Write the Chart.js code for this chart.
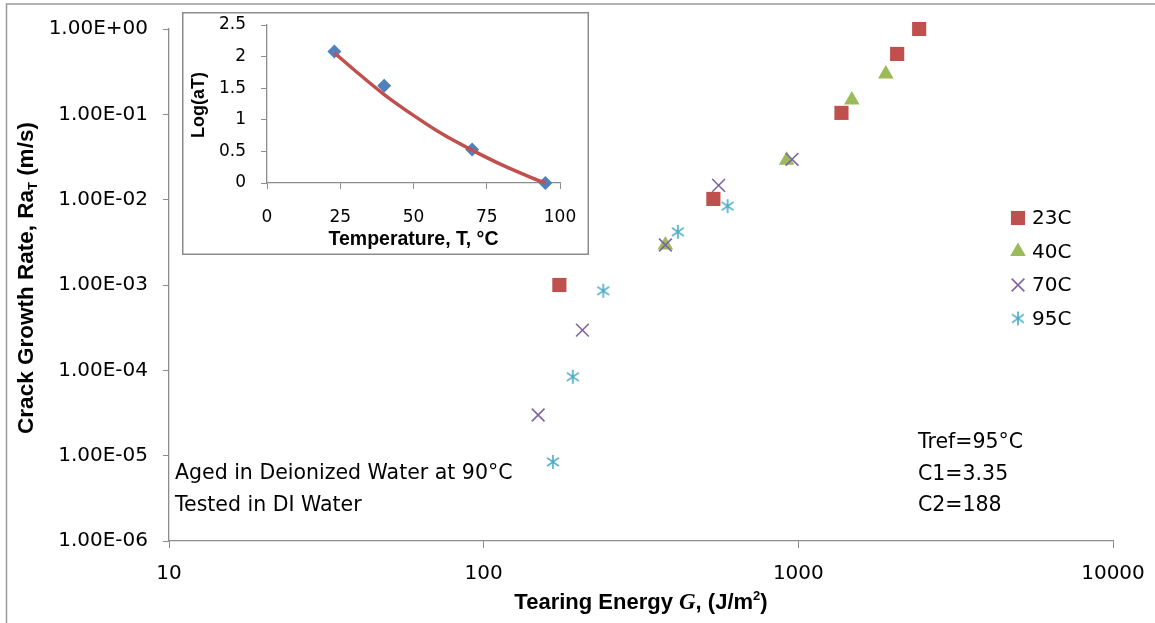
<!DOCTYPE html>
<html>
<head>
<meta charset="utf-8">
<script src="https://cdn.jsdelivr.net/npm/chart.js@4/dist/chart.umd.min.js"></script>
<style>
  html, body { margin: 0; padding: 0; background: #fff; }
  #wrap { position: relative; width: 1155px; height: 623px; }
  #main { position: absolute; left: 0; top: 0; }
  #inset { position: absolute; left: 182px; top: 12px; }
</style>
</head>
<body>
<div id="wrap">
  <canvas id="main" width="1155" height="623"></canvas>
  <canvas id="inset" width="407" height="243"></canvas>
</div>
<script>
// tearing energy (J/m2) vs shifted crack growth rate (m/s), one pair of arrays per temperature
const energy23 = [174, 537, 1371, 2061, 2421];
const rate23   = [1.0e-3, 1.02e-2, 0.104, 0.51, 1.0];
const energy40 = [378, 918, 1479, 1897];
const rate40   = [2.94e-3, 2.9e-2, 0.147, 0.297];
const energy70 = [149, 206, 378, 558, 955];
const rate70   = [3.0e-5, 2.96e-4, 2.94e-3, 1.47e-2, 2.97e-2];
const energy95 = [166, 192, 240, 414, 596];
const rate95   = [8.45e-6, 8.4e-5, 8.55e-4, 4.2e-3, 8.4e-3];

const seriesNames = ['23C', '40C', '70C', '95C'];
const energyTicks = [10, 100, 1000, 10000];
const rateTicks = [1e-6, 1e-5, 1e-4, 1e-3, 1e-2, 1e-1, 1];

// shift factors for the inset
const tempC  = [23, 40, 70, 95];
const logAT  = [2.08, 1.54, 0.53, 0];
const fitTemp  = [23, 30, 40, 50, 60, 70, 80, 90, 95];
const fitLogAT = [2.06, 1.78, 1.40, 1.07, 0.77, 0.52, 0.29, 0.09, 0];
const tempTicks = [0, 25, 50, 75, 100];
const logTicks = [0, 0.5, 1, 1.5, 2, 2.5];

const notesLeft = ['Aged in Deionized Water at 90\u00B0C', 'Tested in DI Water'];
const notesRight = ['Tref=95\u00B0C', 'C1=3.35', 'C2=188'];

const RED = '#C0504D', GREEN = '#9BBB59', PURPLE = '#8064A2', CYAN = '#4BACC6', BLUE = '#4F81BD';
const AXIS = '#8c8c8c';
const TICK_FONT = 'DejaVu Sans';
const TITLE_FONT = 'Liberation Sans';

function sci(v) {
    let e = Math.round(Math.log10(v));
    let m = (v / Math.pow(10, e)).toFixed(2);
    return m + 'E' + (e < 0 ? '-' : '+') + String(Math.abs(e)).padStart(2, '0');
}

// Excel style asterisk: one vertical stroke plus an x
function asterisk(color, size) {
    let c = document.createElement('canvas');
    c.width = size; c.height = size;
    let g = c.getContext('2d');
    g.strokeStyle = color;
    g.lineWidth = 1.6;
    let m = size / 2, r = size / 2 - 1, d = r * 0.85;
    g.beginPath();
    g.moveTo(m, m - r); g.lineTo(m, m + r);
    g.moveTo(m - d, m - d * 0.7); g.lineTo(m + d, m + d * 0.7);
    g.moveTo(m - d, m + d * 0.7); g.lineTo(m + d, m - d * 0.7);
    g.stroke();
    return c;
}
const starImg = asterisk(CYAN, 16);

function pairs(xs, ys) {
    return xs.map((x, i) => ({ x: x, y: ys[i] }));
}

// text made of several runs (bold, italic, sub/superscript), centred on x
function drawRuns(ctx, runs, x, y) {
    let total = 0;
    runs.forEach(r => { ctx.font = r.font; r.w = ctx.measureText(r.text).width; total += r.w; });
    let cx = x - total / 2;
    runs.forEach(r => {
        ctx.font = r.font;
        ctx.fillText(r.text, cx, y + (r.dy || 0));
        cx += r.w;
    });
}

// let the layout padding alone decide where the plot area ends
function fitX(h) {
    return s => { s.height = h; s.paddingLeft = 0; s.paddingRight = 0; };
}

const mainDecor = {
    id: 'mainDecor',
    beforeDraw(chart) {
        let ctx = chart.ctx;
        ctx.save();
        ctx.fillStyle = '#fff';
        ctx.fillRect(0, 0, chart.width, chart.height);
        ctx.restore();
    },
    afterDraw(chart) {
        let ctx = chart.ctx;
        ctx.save();
        // frame: top and left edges only
        ctx.strokeStyle = '#9a9a9a';
        ctx.lineWidth = 1.5;
        ctx.beginPath();
        ctx.moveTo(6.5, 623); ctx.lineTo(6.5, 4); ctx.lineTo(1155, 4);
        ctx.stroke();

        ctx.fillStyle = '#000';
        ctx.textAlign = 'left';
        ctx.textBaseline = 'middle';

        // x title
        let b = 'bold 22px "' + TITLE_FONT + '"';
        drawRuns(ctx, [
            { text: 'Tearing Energy ', font: b },
            { text: 'G', font: 'italic bold 23px "Liberation Serif"' },
            { text: ', (J/m', font: b },
            { text: '2', font: 'bold 13px "' + TITLE_FONT + '"', dy: -7 },
            { text: ')', font: b }
        ], 641, 603);

        // y title
        ctx.save();
        ctx.translate(27, 278);
        ctx.rotate(-Math.PI / 2);
        let by = 'bold 22.5px "' + TITLE_FONT + '"';
        drawRuns(ctx, [
            { text: 'Crack Growth Rate, Ra', font: by },
            { text: 'T', font: 'bold 13px "' + TITLE_FONT + '"', dy: 6 },
            { text: ' (m/s)', font: by }
        ], 0, 0);
        ctx.restore();

        // notes
        ctx.font = '20.5px "' + TICK_FONT + '"';
        notesLeft.forEach((t, i) => ctx.fillText(t, 175, 474 + i * 32));
        notesRight.forEach((t, i) => ctx.fillText(t, 918, 443 + i * 31.5));

        // legend
        ctx.font = '20px "' + TICK_FONT + '"';
        chart.data.datasets.forEach((ds, i) => {
            let y = 218 + i * 33.5;
            ctx.fillStyle = ds.backgroundColor;
            ctx.strokeStyle = ds.borderColor;
            ctx.lineWidth = ds.borderWidth;
            Chart.helpers.drawPoint(ctx, { pointStyle: ds.pointStyle, radius: ds.pointRadius, rotation: 0, borderWidth: ds.borderWidth }, 1018, y);
            ctx.fillStyle = '#000';
            ctx.fillText(ds.label, 1032, y + 1);
        });
        ctx.restore();
    }
};

new Chart(document.getElementById('main'), {
    type: 'scatter',
    data: {
        datasets: [
            { label: seriesNames[0], data: pairs(energy23, rate23), pointStyle: 'rect', pointRadius: 10,
              backgroundColor: RED, borderColor: RED, borderWidth: 0, order: 4, clip: false },
            { label: seriesNames[1], data: pairs(energy40, rate40), pointStyle: 'triangle', pointRadius: 9,
              backgroundColor: GREEN, borderColor: GREEN, borderWidth: 0, order: 3, clip: false },
            { label: seriesNames[2], data: pairs(energy70, rate70), pointStyle: 'crossRot', pointRadius: 9,
              backgroundColor: PURPLE, borderColor: PURPLE, borderWidth: 1.6, order: 2, clip: false },
            { label: seriesNames[3], data: pairs(energy95, rate95), pointStyle: starImg, pointRadius: 8,
              backgroundColor: CYAN, borderColor: CYAN, borderWidth: 1.6, order: 1, clip: false }
        ]
    },
    options: {
        responsive: false,
        animation: false,
        layout: { padding: { top: 29, right: 42, left: 0, bottom: 0 } },
        plugins: { legend: { display: false }, tooltip: { enabled: false } },
        scales: {
            x: {
                type: 'logarithmic', min: 10, max: 10000,
                afterBuildTicks: s => { s.ticks = energyTicks.map(v => ({ value: v })); },
                afterFit: fitX(82),
                grid: { drawOnChartArea: false, tickLength: 7, color: AXIS },
                border: { color: AXIS, width: 1.3 },
                ticks: { color: '#000', font: { family: TICK_FONT, size: 20 }, padding: 14,
                         maxRotation: 0, autoSkip: false, callback: v => String(v) }
            },
            y: {
                type: 'logarithmic', min: 1e-6, max: 1,
                afterBuildTicks: s => { s.ticks = rateTicks.map(v => ({ value: v })); },
                afterFit: s => { s.width = 169; s.paddingTop = 0; s.paddingBottom = 0; },
                grid: { drawOnChartArea: false, tickLength: 6, color: AXIS },
                border: { color: AXIS, width: 1.3 },
                ticks: { color: '#000', font: { family: TICK_FONT, size: 20 }, padding: 15,
                         autoSkip: false, callback: v => sci(v) }
            }
        }
    },
    plugins: [mainDecor]
});

const insetDecor = {
    id: 'insetDecor',
    beforeDraw(chart) {
        let ctx = chart.ctx;
        ctx.save();
        ctx.fillStyle = '#fff';
        ctx.fillRect(0, 0, chart.width, chart.height);
        ctx.strokeStyle = AXIS;
        ctx.lineWidth = 1.5;
        ctx.strokeRect(0.75, 0.75, chart.width - 1.5, chart.height - 1.5);
        ctx.restore();
    },
    afterDraw(chart) {
        let ctx = chart.ctx;
        ctx.save();
        ctx.fillStyle = '#000';
        ctx.textAlign = 'center';
        ctx.textBaseline = 'middle';
        ctx.font = 'bold 19.5px "' + TITLE_FONT + '"';
        ctx.fillText('Temperature, T, \u00B0C', 231.5, 228);
        ctx.font = 'bold 18px "' + TITLE_FONT + '"';
        ctx.translate(17, 93);
        ctx.rotate(-Math.PI / 2);
        ctx.fillText('Log(aT)', 0, 0);
        ctx.restore();
    }
};

new Chart(document.getElementById('inset'), {
    type: 'scatter',
    data: {
        datasets: [
            { label: 'fit', data: pairs(fitTemp, fitLogAT), showLine: true, pointRadius: 0,
              borderColor: RED, borderWidth: 3.5, cubicInterpolationMode: 'monotone', clip: false },
            { label: 'log aT', data: pairs(tempC, logAT), pointStyle: 'rectRot', pointRadius: 7,
              backgroundColor: BLUE, borderColor: BLUE, borderWidth: 0, clip: false }
        ]
    },
    options: {
        responsive: false,
        animation: false,
        layout: { padding: { top: 13, right: 29, left: 0, bottom: 0 } },
        plugins: { legend: { display: false }, tooltip: { enabled: false } },
        scales: {
            x: {
                type: 'linear', min: 0, max: 100,
                afterBuildTicks: s => { s.ticks = tempTicks.map(v => ({ value: v })); },
                afterFit: fitX(72),
                grid: { drawOnChartArea: false, tickLength: 6, color: AXIS },
                border: { color: AXIS, width: 1.3 },
                ticks: { color: '#000', font: { family: TICK_FONT, size: 17 }, padding: 18, maxRotation: 0,
                         callback: v => String(v) }
            },
            y: {
                type: 'linear', min: 0, max: 2.5,
                afterBuildTicks: s => { s.ticks = logTicks.map(v => ({ value: v })); },
                afterFit: s => { s.width = 85; s.paddingTop = 0; s.paddingBottom = 0; },
                grid: { drawOnChartArea: false, tickLength: 6, color: AXIS },
                border: { color: AXIS, width: 1.3 },
                ticks: { color: '#000', font: { family: TICK_FONT, size: 17 }, padding: 15,
                         callback: v => String(v) }
            }
        }
    },
    plugins: [insetDecor]
});
</script>
</body>
</html>
